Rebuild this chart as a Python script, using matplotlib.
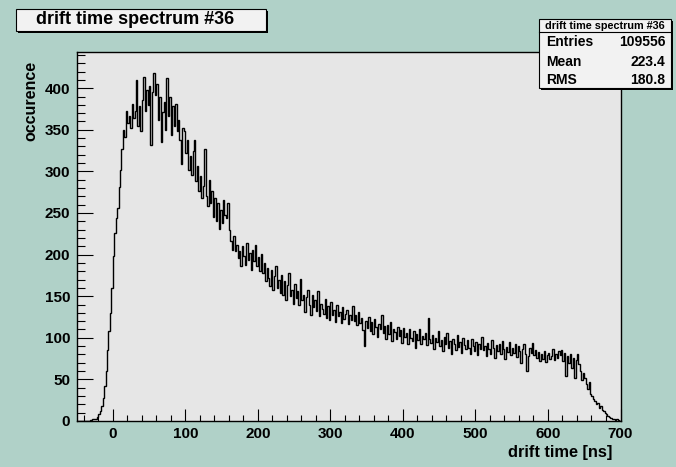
import numpy as np
import matplotlib.pyplot as plt
from matplotlib.patches import Rectangle
from matplotlib.ticker import MultipleLocator

plt.rcParams['font.family'] = ['Liberation Sans', 'DejaVu Sans']
plt.rcParams['font.weight'] = 'bold'

# drift time histogram, 2 ns bins starting at -50 ns (counts per bin)
t_start = -50
bin_width = 2
counts = [
    0, 0, 0, 0, 0, 0, 0, 0, 0, 1,
    1, 2, 2, 3, 5, 8, 12, 18, 28, 42,
    60, 85, 108, 130, 160, 198, 226, 244, 256, 281,
    302, 327, 350, 341, 372, 358, 366, 352, 381, 364,
    372, 410, 355, 378, 349, 386, 414, 372, 398, 380,
    403, 332, 396, 418, 392, 405, 362, 389, 335, 371,
    384, 350, 412, 366, 390, 344, 378, 355, 381, 349,
    362, 338, 309, 352, 348, 322, 338, 302, 318, 296,
    325, 338, 289, 306, 276, 294, 268, 282, 327, 271,
    258, 290, 262, 276, 245, 268, 240, 262, 231, 254,
    238, 266, 248, 244, 262, 230, 216, 206, 222, 204,
    212, 196, 204, 186, 210, 198, 188, 214, 194, 202,
    181, 206, 192, 211, 186, 197, 180, 201, 178, 190,
    168, 184, 172, 162, 181, 158, 174, 186, 160, 170,
    154, 175, 152, 168, 145, 163, 178, 150, 158, 141,
    165, 148, 156, 139, 171, 146, 152, 131, 149, 158,
    140, 128, 151, 137, 145, 132, 156, 126, 141, 135,
    129, 147, 124, 138, 121, 143, 128, 134, 119, 140,
    126, 131, 118, 137, 122, 129, 134, 116, 128, 121,
    138, 120, 127, 115, 131, 118, 124, 109, 90, 120,
    112, 125, 108, 119, 104, 122, 113, 101, 117, 111,
    128, 106, 114, 98, 115, 104, 119, 96, 111, 107,
    99, 113, 102, 109, 94, 112, 101, 106, 92, 110,
    100, 96, 108, 88, 104, 97, 111, 93, 102, 98,
    106, 91, 124, 99, 94, 103, 87, 100, 95, 108,
    90, 97, 84, 101, 93, 106, 88, 96, 80, 99,
    92, 85, 103, 89, 95, 82, 100, 91, 86, 97,
    88, 81, 98, 90, 84, 95, 79, 92, 87, 101,
    85, 90, 78, 94, 86, 81, 97, 88, 76, 91,
    84, 93, 80, 96, 87, 74, 89, 83, 95, 79,
    88, 82, 93, 77, 90, 84, 70, 86, 92, 81,
    60, 78, 88, 82, 94, 79, 85, 76, 83, 72,
    80, 75, 84, 71, 79, 82, 74, 78, 86, 73,
    80, 76, 84, 79, 85, 72, 82, 54, 78, 70,
    81, 64, 76, 52, 73, 80, 68, 60, 49, 58,
    52, 45, 38, 47, 32, 30, 26, 24, 20, 22,
    16, 18, 13, 12, 10, 8, 6, 5, 4, 3,
    2, 1, 2, 1, 0,
]
edges = t_start + bin_width * np.arange(len(counts) + 1)

hist_title = 'drift time spectrum #36'
stat_names = ['Entries', 'Mean', 'RMS']
stat_values = ['109556', '223.4', '180.8']

W, H = 676, 467
bg = '#b0d1c8'
fig = plt.figure(figsize=(W / 100, H / 100), dpi=100, facecolor=bg)

def fx(px):
    return px / W

def fy(py):
    return 1 - py / H

ax = fig.add_axes([fx(76.5), fy(421), fx(620.5) - fx(76.5), fy(52) - fy(421)])
ax.set_facecolor('#e6e6e6')
ax.stairs(counts, edges, color='black', linewidth=1.0)

ax.set_xlim(-50, 700)
ax.set_ylim(0, 443.5)
ax.xaxis.set_major_locator(MultipleLocator(100))
ax.xaxis.set_minor_locator(MultipleLocator(20))
ax.yaxis.set_major_locator(MultipleLocator(50))
ax.yaxis.set_minor_locator(MultipleLocator(10))
ax.tick_params(axis='x', which='major', direction='in', length=8.5, width=0.8, pad=4.5, labelsize=11)
ax.tick_params(axis='x', which='minor', direction='in', length=4.3, width=0.8)
ax.tick_params(axis='y', which='major', direction='in', length=11.5, width=0.8, pad=4.5, labelsize=11)
ax.tick_params(axis='y', which='minor', direction='in', length=5.8, width=0.8)
for lab in ax.get_xticklabels() + ax.get_yticklabels():
    lab.set_fontweight('bold')
for s in ax.spines.values():
    s.set_linewidth(1.0)

fig.text(fx(31), fy(61), 'occurence', rotation=90, ha='center', va='top',
         fontsize=11.5, fontweight='bold')
fig.text(fx(612), fy(452), 'drift time [ns]', ha='right', va='center',
         fontsize=11.8, fontweight='bold')

def box(x0, y0, x1, y1):
    # shadow then white-ish box, all in pixel coordinates
    fig.patches.append(Rectangle((fx(x0 + 2), fy(y1 + 2)), fx(x1 - x0), fy(y0) - fy(y1),
                                 transform=fig.transFigure, facecolor='black',
                                 edgecolor='none', zorder=5))
    fig.patches.append(Rectangle((fx(x0), fy(y1)), fx(x1 - x0), fy(y0) - fy(y1),
                                 transform=fig.transFigure, facecolor='#f2f2f2',
                                 edgecolor='black', linewidth=0.8, zorder=6))

# title box
box(16, 9, 266, 31)
fig.text(fx(36), fy(20), hist_title, ha='left', va='center', fontsize=13,
         fontweight='bold', zorder=7)

# stats box
box(539, 18.5, 671, 88)
fig.add_artist(plt.Line2D([fx(539), fx(671)], [fy(32.3), fy(32.3)],
                          color='black', linewidth=0.8, zorder=7))
fig.text(fx(605), fy(26), hist_title, ha='center', va='center', fontsize=7.8,
         fontweight='bold', zorder=7)
row_y = [42, 61.5, 80]
for name, val, yy in zip(stat_names, stat_values, row_y):
    fig.text(fx(546), fy(yy), name, ha='left', va='center', fontsize=10,
             fontweight='bold', zorder=7)
    fig.text(fx(665.5), fy(yy), val, ha='right', va='center', fontsize=10,
             fontweight='bold', zorder=7)

fig.savefig('out.png', dpi=100, facecolor=bg)
